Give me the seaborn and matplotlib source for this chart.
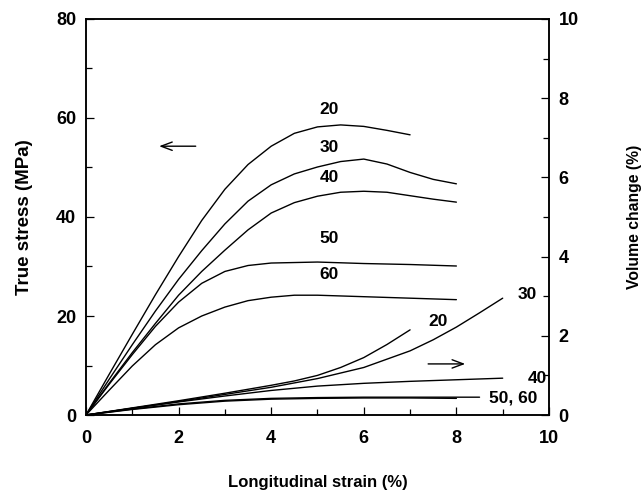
import matplotlib
matplotlib.use("Agg")
import matplotlib.pyplot as plt
import seaborn as sns
import pandas as pd

# Longitudinal strain (%) sampled for each stress-strain curve
strain_20 = [0, 0.5, 1, 1.5, 2, 2.5, 3, 3.5, 4, 4.5, 5, 5.5, 6, 6.5, 7]
stress_20 = [0, 8.2, 16.3, 24.3, 32, 39.3, 45.6, 50.6, 54.3, 56.9, 58.2, 58.6, 58.3, 57.5, 56.6]

strain_30 = [0, 0.5, 1, 1.5, 2, 2.5, 3, 3.5, 4, 4.5, 5, 5.5, 6, 6.5, 7, 7.5, 8]
stress_30 = [0, 7.2, 14.2, 21, 27.4, 33.2, 38.6, 43.2, 46.5, 48.7, 50.1, 51.2, 51.7, 50.7, 49, 47.6, 46.7]

strain_40 = [0, 0.5, 1, 1.5, 2, 2.5, 3, 3.5, 4, 4.5, 5, 5.5, 6, 6.5, 7, 7.5, 8]
stress_40 = [0, 6.4, 12.6, 18.5, 24.2, 29, 33.3, 37.4, 40.8, 42.9, 44.2, 45, 45.2, 45, 44.3, 43.6, 43]

strain_50 = [0, 0.5, 1, 1.5, 2, 2.5, 3, 3.5, 4, 5, 6, 7, 8]
stress_50 = [0, 6.2, 12.2, 17.9, 22.8, 26.6, 29, 30.2, 30.7, 30.9, 30.6, 30.4, 30.1]

strain_60 = [0, 0.5, 1, 1.5, 2, 2.5, 3, 3.5, 4, 4.5, 5, 6, 7, 8]
stress_60 = [0, 5, 9.9, 14.2, 17.6, 20, 21.8, 23.1, 23.8, 24.2, 24.2, 23.9, 23.6, 23.3]

# Volume change (%) curves, right-hand axis
vstrain_20 = [0, 1, 2, 3, 4, 4.5, 5, 5.5, 6, 6.5, 7]
volume_20 = [0, 0.18, 0.36, 0.55, 0.75, 0.86, 1.0, 1.2, 1.45, 1.78, 2.15]

vstrain_30 = [0, 1, 2, 3, 4, 5, 6, 7, 7.5, 8, 8.5, 9]
volume_30 = [0, 0.17, 0.34, 0.52, 0.7, 0.92, 1.2, 1.62, 1.9, 2.22, 2.58, 2.95]

vstrain_40 = [0, 1, 2, 3, 4, 5, 6, 7, 8, 9]
volume_40 = [0, 0.17, 0.33, 0.48, 0.62, 0.73, 0.8, 0.85, 0.89, 0.93]

vstrain_50 = [0, 1, 2, 3, 4, 5, 6, 7, 8, 8.5]
volume_50 = [0, 0.15, 0.28, 0.37, 0.42, 0.44, 0.45, 0.45, 0.45, 0.45]

vstrain_60 = [0, 1, 2, 3, 4, 5, 6, 7, 8]
volume_60 = [0, 0.14, 0.26, 0.35, 0.4, 0.42, 0.43, 0.43, 0.42]

stress_labels = ["20", "30", "40", "50", "60"]
stress_label_pos = [(5.05, 60.3), (5.05, 52.6), (5.05, 46.5), (5.05, 34.1), (5.05, 26.8)]
volume_labels = ["20", "30", "40", "50, 60"]
volume_label_pos = [(7.4, 2.35), (9.32, 3.05), (9.55, 0.93), (8.7, 0.43)]

stress_curves = [(strain_20, stress_20), (strain_30, stress_30), (strain_40, stress_40),
                 (strain_50, stress_50), (strain_60, stress_60)]
volume_curves = [(vstrain_20, volume_20), (vstrain_30, volume_30), (vstrain_40, volume_40),
                 (vstrain_50, volume_50), (vstrain_60, volume_60)]

sns.set_style("ticks")
plt.rcParams["font.family"] = ["Liberation Sans", "DejaVu Sans"]
plt.rcParams["text.color"] = "black"
plt.rcParams["axes.labelcolor"] = "black"
plt.rcParams["xtick.color"] = "black"
plt.rcParams["ytick.color"] = "black"
plt.rcParams["axes.edgecolor"] = "black"

fig = plt.figure(figsize=(6.43, 4.93), dpi=100)
ax = fig.add_axes([0.1337, 0.1582, 0.7201, 0.8033])
ax2 = ax.twinx()

for x, y in stress_curves:
    df = pd.DataFrame({"strain": x, "value": y})
    sns.lineplot(data=df, x="strain", y="value", ax=ax, color="black", linewidth=1.0,
                 estimator=None, sort=False)

for x, y in volume_curves:
    df = pd.DataFrame({"strain": x, "value": y})
    sns.lineplot(data=df, x="strain", y="value", ax=ax2, color="black", linewidth=1.0,
                 estimator=None, sort=False)

ax.set_xlim(0, 10)
ax.set_ylim(0, 80)
ax2.set_ylim(0, 10)

ax.set_xticks([0, 2, 4, 6, 8, 10])
ax.set_xticks(range(0, 11), minor=True)
ax.set_yticks([0, 20, 40, 60, 80])
ax.set_yticks(range(0, 81, 10), minor=True)
ax2.set_yticks([0, 2, 4, 6, 8, 10])
ax2.set_yticks(range(0, 11), minor=True)

tick_font = dict(fontsize=13, fontweight="bold")
ax.set_xticklabels(["0", "2", "4", "6", "8", "10"], **tick_font)
ax.set_yticklabels(["0", "20", "40", "60", "80"], **tick_font)
ax2.set_yticklabels(["0", "2", "4", "6", "8", "10"], **tick_font)

ax.tick_params(axis="both", which="both", direction="in", width=0.9)
ax.tick_params(axis="x", which="both", pad=11)
ax.tick_params(axis="y", which="both", pad=7)
ax.tick_params(axis="both", which="major", length=6)
ax.tick_params(axis="both", which="minor", length=4)
ax2.tick_params(axis="y", which="both", direction="in", width=0.9, pad=7)
ax2.tick_params(axis="y", which="major", length=6)
ax2.tick_params(axis="y", which="minor", length=4)

for a in (ax, ax2):
    for s in a.spines.values():
        s.set_visible(True)
        s.set_linewidth(1.1)
        s.set_color("black")

ax.set_xlabel("Longitudinal strain (%)", fontsize=12, fontweight="bold", labelpad=20)
ax.set_ylabel("True stress (MPa)", fontsize=13.5, fontweight="bold", labelpad=17)
ax2.set_ylabel("Volume change (%)", fontsize=11.3, fontweight="bold", labelpad=35)

for txt, (x, y) in zip(stress_labels, stress_label_pos):
    ax.text(x, y, txt, fontsize=12.5, fontweight="bold", ha="left", va="bottom")
for txt, (x, y) in zip(volume_labels, volume_label_pos):
    ax2.text(x, y, txt, fontsize=12.5, fontweight="bold", ha="left", va="center")

arrow = dict(arrowstyle="->,head_length=0.8,head_width=0.3", color="black", lw=1.0)
ax.annotate("", xy=(1.52, 54.3), xytext=(2.43, 54.3), arrowprops=arrow)
ax2.annotate("", xy=(8.25, 1.29), xytext=(7.33, 1.29), arrowprops=arrow)

fig.savefig("out.png", dpi=100)
